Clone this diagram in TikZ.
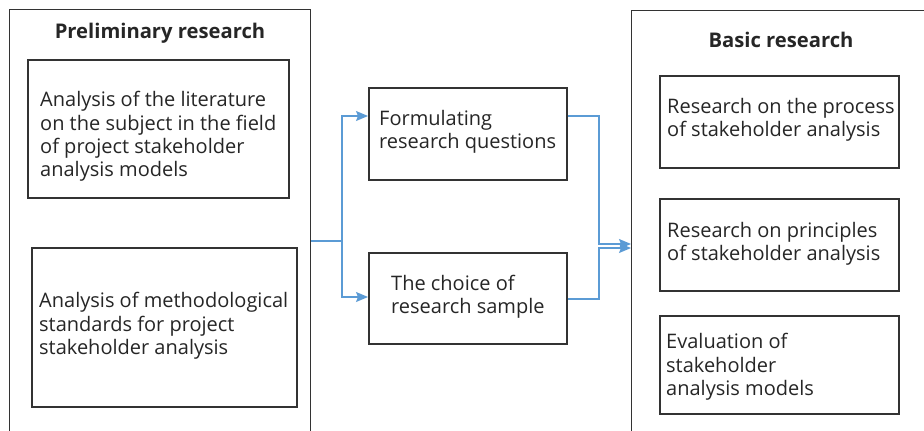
\documentclass[tikz,border=0pt]{standalone}
\usepackage{fontspec}
\setmainfont{Open Sans}
\usetikzlibrary{arrows.meta}
\definecolor{flowblue}{HTML}{5B9BD5}
\definecolor{ink}{HTML}{262626}
\definecolor{frame}{HTML}{333333}

\begin{document}
\begin{tikzpicture}[x=1pt,y=-1pt,
  stagebox/.style={draw=frame, line width=1.1pt, rectangle, anchor=north west, inner sep=0pt},
  taskbox/.style={draw=frame, line width=1.5pt, rectangle, anchor=north west, inner sep=0pt},
  body/.style={text=ink, font=\fontsize{20}{23.3}\selectfont, align=left, inner sep=0pt, anchor=west},
  heading/.style={text=ink, font=\fontsize{20.2}{23}\selectfont\bfseries, inner sep=0pt},
  flow/.style={draw=flowblue, line width=1.1pt},
  flowarrow/.style={flow, -{Stealth[length=12pt,width=10pt,inset=2pt]}}
]
\useasboundingbox (0,0) rectangle (924,431);
\clip (0,0) rectangle (924,431);
\fill[white] (0,0) rectangle (924,431);

% the two stages, open towards the page edges
\node[stagebox, minimum width=301pt, minimum height=440pt] (prelim) at (9,9) {};
\node[stagebox, minimum width=400pt, minimum height=440pt] (basic) at (631,9.5) {};
\node[heading] (prelimT) at (160,33) {Preliminary research};
\node[heading] (basicT) at (781,40) {Basic research};

% preliminary research tasks
\node[taskbox, minimum width=261pt, minimum height=138pt] (lit) at (27,59) {};
\node[body] (litT) at (40,136.5) {Analysis of the literature\\on the subject in the field\\of project stakeholder\\analysis models};
\node[taskbox, minimum width=265pt, minimum height=159pt] (meth) at (31,247) {};
\node[body] (methT) at (39,326) {Analysis of methodological\\standards for project\\stakeholder analysis};

% intermediate steps
\node[taskbox, minimum width=198pt, minimum height=92pt] (quest) at (368,87) {};
\node[body] (questT) at (379,131.5) {Formulating\\research questions};
\node[taskbox, minimum width=198pt, minimum height=91pt] (sample) at (368,252) {};
\node[body] (sampleT) at (391,296.5) {The choice of\\research sample};

% basic research tasks
\node[taskbox, minimum width=239pt, minimum height=92pt] (proc) at (659,75) {};
\node[body] (procT) at (667,120) {Research on the process\\of stakeholder analysis};
\node[taskbox, minimum width=239pt, minimum height=92pt] (princ) at (659,198) {};
\node[body] (princT) at (667,243.5) {Research on principles\\of stakeholder analysis};
\node[taskbox, minimum width=239pt, minimum height=98pt] (evalm) at (659,315) {};
\node[body] (evalmT) at (666,367) {Evaluation of\\stakeholder\\analysis models};

% connectors
\coordinate (fork) at (342,241);
\coordinate (qy) at (0,116);
\coordinate (sy) at (0,297);
\coordinate (sout) at (0,299);
\coordinate (jtop) at (599,244);
\coordinate (jbot) at (599,248);

\draw[flow] (prelim.east |- fork) -- (fork);
\draw[flowarrow] (fork) |- (quest.west |- qy);
\draw[flowarrow] (fork) |- (sample.west |- sy);
\draw[flowarrow] (quest.east |- qy) -| (jtop) -- (basic.west |- jtop);
\draw[flowarrow] (sample.east |- sout) -| (jbot) -- (basic.west |- jbot);
\end{tikzpicture}
\end{document}
